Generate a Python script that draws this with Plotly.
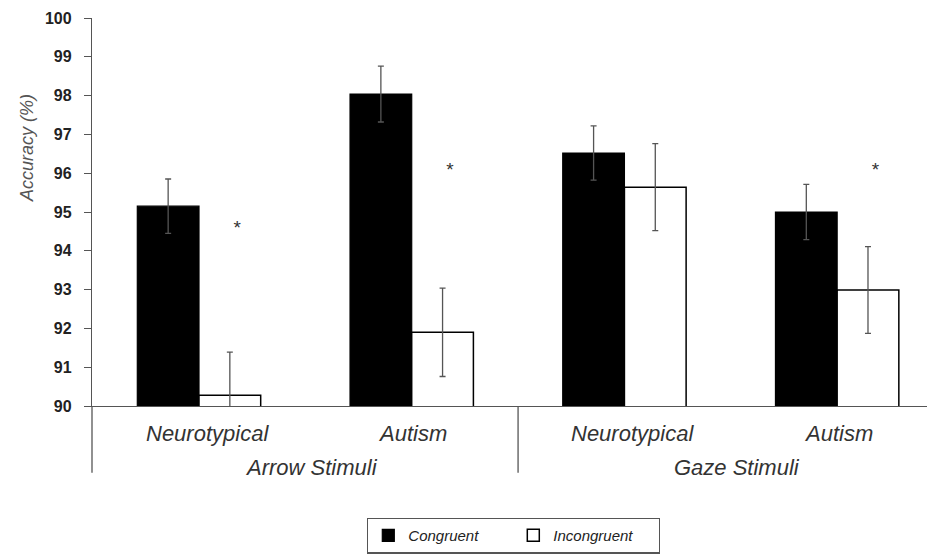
import plotly.graph_objects as go

groups = ["Neurotypical", "Autism", "Neurotypical", "Autism"]
stimuli = ["Arrow Stimuli", "Gaze Stimuli"]
congruent = [95.15, 98.04, 96.52, 95.00]
congruent_err = [0.70, 0.72, 0.70, 0.71]
incongruent = [90.28, 91.90, 95.64, 92.99]
incongruent_err = [1.11, 1.14, 1.12, 1.12]
star_x = [0.18, 1.18, 3.18]
star_y = [94.55, 96.05, 96.05]
y_ticks = [90, 91, 92, 93, 94, 95, 96, 97, 98, 99, 100]

xs = list(range(len(groups)))
font = "Liberation Sans, Arial, sans-serif"
err_col = "#555555"
label_shift = [0.04, 0.005, 0.04, 0.005]

fig = go.Figure()
fig.add_trace(go.Bar(
    x=xs, y=congruent, name="Congruent",
    marker=dict(color="black", line=dict(color="black", width=1.2)),
    error_y=dict(type="data", array=congruent_err, color=err_col, thickness=1.3, width=3),
))
fig.add_trace(go.Bar(
    x=xs, y=incongruent, name="Incongruent",
    marker=dict(color="white", line=dict(color="black", width=1.5)),
    error_y=dict(type="data", array=incongruent_err, color=err_col, thickness=1.3, width=3),
))
fig.add_trace(go.Scatter(
    x=star_x, y=star_y, mode="text", text=["*"] * len(star_x),
    textfont=dict(size=19, color="#333333", family=font), showlegend=False,
    hoverinfo="skip",
))

annotations = []
for i, g in enumerate(groups):
    annotations.append(dict(x=i + label_shift[i], y=0, xref="x", yref="paper", text="<i>%s</i>" % g,
                            showarrow=False, yanchor="middle", yshift=-27,
                            font=dict(size=22, color="#333333", family=font)))
for j, s in enumerate(stimuli):
    annotations.append(dict(x=0.53 + 2 * j, y=0, xref="x", yref="paper", text="<i>%s</i>" % s,
                            showarrow=False, yanchor="middle", yshift=-61,
                            font=dict(size=22, color="#333333", family=font)))
annotations.append(dict(x=-65 / 843, y=0.665, xref="paper", yref="paper",
                        text="<i>Accuracy (%)</i>", textangle=-90, showarrow=False,
                        xanchor="center", yanchor="middle",
                        font=dict(size=18, color="#555555", family=font)))

shapes = [
    dict(type="line", xref="paper", yref="paper", x0=0, x1=0, y0=0, y1=-0.172,
         line=dict(color="#555555", width=1.3)),
    dict(type="line", xref="x", yref="paper", x0=1.5, x1=1.5, y0=0, y1=-0.172,
         line=dict(color="#555555", width=1.3)),
]

fig.update_layout(
    width=935, height=556,
    margin=dict(l=84, r=8, t=10, b=158, autoexpand=False),
    plot_bgcolor="white", paper_bgcolor="white",
    barmode="group", bargap=0.42, bargroupgap=0,
    showlegend=True,
    legend=dict(orientation="h", x=275 / 843, y=-0.288, xanchor="left", yanchor="top",
                bordercolor="#555555", borderwidth=1.3,
                font=dict(size=15, color="#222222", family=font, style="italic"),
                itemwidth=30, entrywidth=100, traceorder="normal"),
    xaxis=dict(range=[-0.503, 3.46], showticklabels=False, ticks="", showgrid=False,
               zeroline=False, showline=True, linecolor="#555555", linewidth=1.3),
    yaxis=dict(range=[90, 100], tickvals=y_ticks, ticks="outside", ticklen=7,
               tickcolor="#555555", showgrid=False, zeroline=False, showline=True,
               linecolor="#555555", linewidth=1.3, ticklabelstandoff=9,
               tickfont=dict(size=16, color="#222222", family=font, weight="bold")),
    annotations=annotations, shapes=shapes,
)

fig.write_html("out.html")
